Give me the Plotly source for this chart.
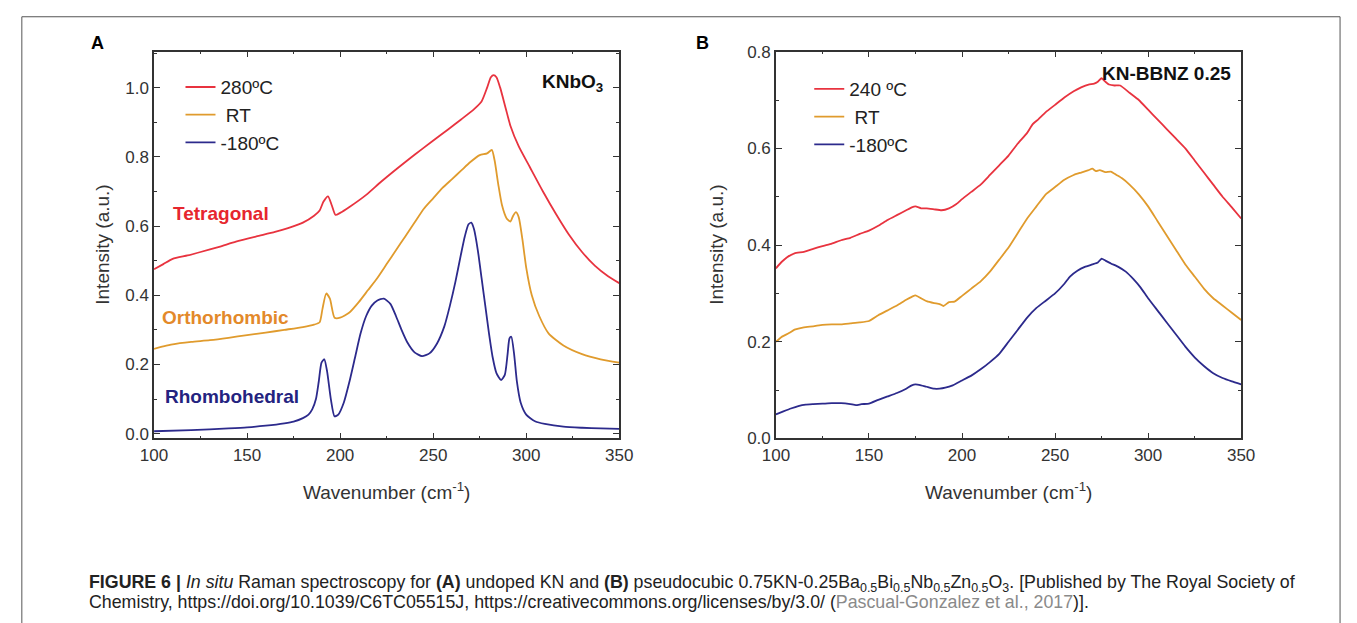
import plotly.graph_objects as go

W, H = 1357, 623

# ---------------- Panel A: KNbO3 ----------------
a_red_x = [100,105,110,118,125,135,144,155,165,172,180,186,189,191,193.5,195.5,197.5,200,205,214,222,231.5,240,249,258,265,272,276,279,281,282.5,284,286,289,291.5,296,302,309,316,323,330,337,344,350]
a_red_y = [0.475,0.49,0.505,0.515,0.525,0.54,0.555,0.57,0.583,0.594,0.61,0.63,0.645,0.67,0.686,0.66,0.632,0.638,0.655,0.69,0.728,0.77,0.806,0.843,0.879,0.908,0.938,0.96,1.0,1.03,1.036,1.03,1.0,0.94,0.89,0.83,0.77,0.70,0.635,0.575,0.525,0.485,0.455,0.435]

a_org_x = [100,105,110,120,130,140,150,160,170,180,186,189,190.5,192.5,194.5,197,200,205,210,215,220,225,230,235,240,245,250,255,260,265,270,275,279,281.5,283,285,287,289.5,291.5,293,294.5,296,298,300,303,307,312,320,330,340,350]
a_org_y = [0.245,0.252,0.258,0.265,0.27,0.277,0.285,0.292,0.30,0.308,0.315,0.322,0.36,0.405,0.39,0.335,0.335,0.35,0.38,0.415,0.45,0.49,0.53,0.57,0.61,0.65,0.68,0.71,0.735,0.76,0.785,0.805,0.81,0.82,0.79,0.72,0.66,0.622,0.613,0.63,0.64,0.625,0.56,0.48,0.40,0.34,0.29,0.255,0.23,0.215,0.205]

a_blu_x = [100,120,140,150,160,170,175,180,183,185,187,188.5,190,191.5,193,195,197,199,202,205,208,211,214,217,220,223.5,227,230,233,236,240,244,248,252,256,259,262,265,267,269,270.5,272,274,276,278,280,282,284,286.5,288.5,290,291,292,293.5,295,297,300,305,310,320,330,340,350]
a_blu_y = [0.007,0.01,0.015,0.018,0.023,0.03,0.035,0.045,0.055,0.07,0.1,0.15,0.205,0.215,0.18,0.1,0.05,0.055,0.09,0.15,0.22,0.29,0.34,0.37,0.385,0.39,0.375,0.34,0.3,0.265,0.235,0.224,0.232,0.26,0.31,0.37,0.44,0.52,0.57,0.605,0.61,0.59,0.53,0.45,0.37,0.29,0.22,0.175,0.155,0.17,0.23,0.275,0.28,0.23,0.15,0.09,0.055,0.035,0.028,0.02,0.017,0.015,0.014]

a_names = ["280ºC", " RT", "-180ºC"]
a_phase_labels = ["Tetragonal", "Orthorhombic", "Rhombohedral"]

# ---------------- Panel B: KN-BBNZ 0.25 ----------------
b_red_x = [100,103,106,110,115,120,125,130,135,140,145,150,155,160,165,170,173,175,178,181,185,189,193,197,200,205,210,215,220,225,230,235,238,241,245,250,255,260,264,268,271,273,275,277,279,282,285,290,295,300,305,310,315,320,325,330,335,340,345,350]
b_red_y = [0.352,0.365,0.375,0.383,0.386,0.392,0.398,0.403,0.41,0.415,0.423,0.43,0.44,0.452,0.462,0.472,0.478,0.48,0.476,0.476,0.474,0.472,0.476,0.485,0.495,0.51,0.525,0.545,0.565,0.585,0.61,0.632,0.65,0.66,0.675,0.69,0.705,0.718,0.726,0.732,0.734,0.738,0.745,0.738,0.732,0.73,0.73,0.715,0.70,0.68,0.66,0.64,0.62,0.60,0.575,0.55,0.525,0.50,0.478,0.455]

b_org_x = [100,103,107,110,115,120,125,130,135,140,145,150,155,160,165,170,173,175,178,181,185,188,190,193,196,200,205,210,215,220,225,230,235,240,245,250,255,260,264,268,270,272,274,277,280,283,286,290,295,300,305,310,315,320,325,330,335,340,345,350]
b_org_y = [0.20,0.21,0.218,0.225,0.23,0.232,0.235,0.236,0.236,0.238,0.24,0.243,0.255,0.265,0.275,0.287,0.293,0.296,0.29,0.284,0.28,0.278,0.274,0.282,0.283,0.295,0.31,0.325,0.345,0.37,0.395,0.425,0.455,0.48,0.505,0.52,0.535,0.545,0.55,0.555,0.558,0.553,0.555,0.551,0.552,0.545,0.538,0.525,0.505,0.48,0.45,0.42,0.39,0.36,0.335,0.31,0.29,0.275,0.26,0.245]

b_blu_x = [100,104,108,112,116,120,125,130,135,140,143,146,150,155,160,165,170,173,175,178,181,185,188,191,195,200,205,210,215,220,225,230,235,240,245,250,255,258,262,266,270,273,275,277,280,284,288,292,296,300,305,310,315,320,325,330,335,340,345,350]
b_blu_y = [0.05,0.056,0.062,0.067,0.07,0.071,0.072,0.073,0.073,0.071,0.069,0.071,0.072,0.08,0.087,0.094,0.103,0.11,0.112,0.11,0.107,0.103,0.103,0.105,0.11,0.12,0.13,0.143,0.158,0.175,0.2,0.225,0.25,0.27,0.285,0.30,0.32,0.335,0.347,0.355,0.36,0.364,0.372,0.368,0.362,0.355,0.345,0.33,0.312,0.29,0.265,0.24,0.215,0.19,0.168,0.15,0.135,0.125,0.118,0.112]

b_names = ["240 ºC", " RT", "-180ºC"]

colors = ["#e8333f", "#e09b2d", "#2c2a8c"]
label_colors = ["#e6262e", "#e3892a", "#24237f"]

FONT = "Liberation Sans, Arial, Helvetica, sans-serif"
AX = "#333333"


def px(x):
    return x / W


def py(y):
    return 1 - y / H


fig = go.Figure()

for xs, ys, nm, c in zip([a_red_x, a_org_x, a_blu_x], [a_red_y, a_org_y, a_blu_y], a_names, colors):
    fig.add_trace(go.Scatter(x=xs, y=ys, name=nm, mode="lines",
                             line=dict(color=c, width=1.8, shape="spline", smoothing=0.6),
                             xaxis="x", yaxis="y", legend="legend"))

for xs, ys, nm, c in zip([b_red_x, b_org_x, b_blu_x], [b_red_y, b_org_y, b_blu_y], b_names, colors):
    fig.add_trace(go.Scatter(x=xs, y=ys, name=nm, mode="lines",
                             line=dict(color=c, width=1.8, shape="spline", smoothing=0.4),
                             xaxis="x2", yaxis="y2", legend="legend2"))

common_axis = dict(showline=True, linecolor=AX, linewidth=1.5, mirror="ticks",
                   ticks="inside", ticklen=6, tickwidth=1.3, tickcolor=AX,
                   showgrid=False, zeroline=False,
                   tickfont=dict(family=FONT, size=17, color=AX))

ydom = [py(443), py(44)]
leg_font = dict(family=FONT, size=19, color="#222")

fig.update_layout(
    width=W, height=H,
    margin=dict(l=0, r=0, t=0, b=0),
    paper_bgcolor="white", plot_bgcolor="white",
    font=dict(family=FONT, color=AX),
    xaxis=dict(domain=[px(143), px(618)], range=[100, 350], dtick=50, anchor="y",
               minor=dict(ticks="inside", ticklen=3, dtick=25, tickcolor=AX), **common_axis),
    yaxis=dict(domain=ydom, range=[-0.014, 1.104], dtick=0.2, tickformat=".1f", anchor="x",
               minor=dict(ticks="inside", ticklen=3, dtick=0.1, tickcolor=AX), **common_axis),
    xaxis2=dict(domain=[px(778), px(1253)], range=[100, 350], dtick=50, anchor="y2",
                minor=dict(ticks="inside", ticklen=3, dtick=25, tickcolor=AX), **common_axis),
    yaxis2=dict(domain=ydom, range=[0, 0.8], dtick=0.2, tickformat=".1f", anchor="x2",
                minor=dict(ticks="inside", ticklen=3, dtick=0.1, tickcolor=AX), **common_axis),
    legend=dict(x=px(170), y=py(61), xanchor="left", yanchor="top",
                bgcolor="rgba(0,0,0,0)", font=leg_font, tracegroupgap=0, itemwidth=30),
    legend2=dict(x=px(812), y=py(63), xanchor="left", yanchor="top",
                 bgcolor="rgba(0,0,0,0)", font=leg_font, tracegroupgap=0, itemwidth=30),
    showlegend=True,
)


def note(x, y, text, size, color, xanchor="center", angle=0):
    return dict(x=px(x), y=py(y), text=text, showarrow=False, xref="paper", yref="paper",
                xanchor=xanchor, yanchor="middle", textangle=angle,
                font=dict(family=FONT, size=size, color=color))


ann = []
ann.append(note(85, 35, "<b>A</b>", 18, "#000"))
ann.append(note(703, 35, "<b>B</b>", 18, "#000"))
ann.append(note(537, 76, "<b>KNbO<sub>3</sub></b>", 19, "#111", xanchor="left"))
ann.append(note(1245, 67, "<b>KN-BBNZ 0.25</b>", 19, "#111", xanchor="right"))
for txt, c, (cx, cy) in zip(a_phase_labels, label_colors, [(211, 211), (216, 318), (223, 400)]):
    ann.append(note(cx, cy, "<b>%s</b>" % txt, 19, c))
for cx in (90, 717):
    ann.append(note(cx, 243, "Intensity (a.u.)", 19, AX, angle=-90))
for cx in (380, 1015):
    ann.append(note(cx, 497, "Wavenumber (cm<sup>-1</sup>)", 19, AX))

cap1 = ("<b>FIGURE 6 |</b> <i>In situ</i> Raman spectroscopy for <b>(A)</b> undoped KN and <b>(B)</b> pseudocubic "
        "0.75KN-0.25Ba<sub>0.5</sub>Bi<sub>0.5</sub>Nb<sub>0.5</sub>Zn<sub>0.5</sub>O<sub>3</sub>. "
        "[Published by The Royal Society of")
cap2 = ("Chemistry, https://doi.org/10.1039/C6TC05515J, https://creativecommons.org/licenses/by/3.0/ "
        "(<span style='color:#8a8a8a'>Pascual-Gonzalez et al., 2017</span>)].")
ann.append(note(75, 593, cap1, 17.8, "#222", xanchor="left"))
ann.append(note(75, 612, cap2, 17.8, "#222", xanchor="left"))
fig.update_layout(annotations=ann)

# outer frame of the figure
fig.add_shape(type="rect", xref="paper", yref="paper", x0=px(8), x1=px(1354), y0=py(640), y1=py(8),
              line=dict(color="#555", width=1), fillcolor="rgba(0,0,0,0)", layer="above")

fig.write_html("out.html", config={"displayModeBar": False},
               post_script="document.body.style.margin='0';document.body.style.overflow='hidden';")
